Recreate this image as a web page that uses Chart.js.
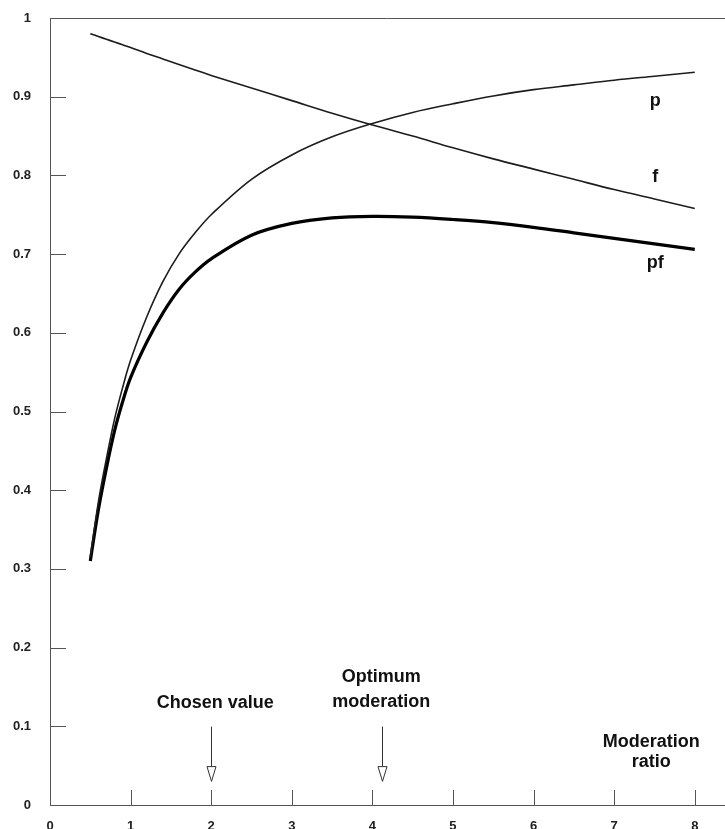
<!DOCTYPE html>
<html>
<head>
<meta charset="utf-8">
<script src="https://cdn.jsdelivr.net/npm/chart.js@4"></script>
<style>
  html, body { margin: 0; padding: 0; background: #fff; }
  #wrap { width: 725px; height: 829px; }
</style>
</head>
<body>
<div id="wrap"><canvas id="modChart"></canvas></div>
<script>
// moderation ratio (x) and the three curves
const ratio = [0.5, 0.6, 0.7, 0.8, 0.9, 1.0, 1.2, 1.4, 1.6, 1.8, 2.0, 2.5, 3.0, 3.5, 4.0, 4.5, 5.0, 5.5, 6.0, 6.5, 7.0, 7.5, 8.0];
const pValues = [0.315, 0.385, 0.44, 0.49, 0.53, 0.565, 0.62, 0.665, 0.70, 0.727, 0.75, 0.795, 0.826, 0.849, 0.866, 0.88, 0.891, 0.901, 0.909, 0.915, 0.921, 0.926, 0.931];
const fValues = [0.980, 0.9765, 0.973, 0.9695, 0.966, 0.9625, 0.955, 0.948, 0.941, 0.934, 0.927, 0.911, 0.895, 0.879, 0.864, 0.850, 0.835, 0.821, 0.808, 0.795, 0.782, 0.770, 0.758];
const pfValues = [0.31, 0.375, 0.428, 0.475, 0.512, 0.543, 0.588, 0.625, 0.655, 0.677, 0.694, 0.724, 0.739, 0.746, 0.748, 0.747, 0.744, 0.740, 0.734, 0.727, 0.720, 0.713, 0.706];

const xTicks = [0, 1, 2, 3, 4, 5, 6, 7, 8];
const yTicks = [0, 0.1, 0.2, 0.3, 0.4, 0.5, 0.6, 0.7, 0.8, 0.9, 1];

// curve names placed at the right end, in data units
const curveLabels = [
    { text: 'p', x: 7.51, y: 0.894 },
    { text: 'f', x: 7.51, y: 0.798 },
    { text: 'pf', x: 7.51, y: 0.689 }
];
// notes and arrows along the bottom
const notes = [
    { text: 'Chosen value', x: 2.05, y: 0.130 },
    { text: 'Optimum', x: 4.11, y: 0.162 },
    { text: 'moderation', x: 4.11, y: 0.131 },
    { text: 'Moderation', x: 7.46, y: 0.080 },
    { text: 'ratio', x: 7.46, y: 0.055 }
];
const arrowsAt = [2.0, 4.12];

const ink = '#1c1c1c';
const axisInk = '#555';

function pts(vals) {
    return ratio.map((x, i) => ({ x: x, y: vals[i] }));
}

const decor = {
    id: 'decor',
    afterDraw(chart) {
        const c = chart.ctx;
        const xs = chart.scales.x;
        const ys = chart.scales.y;
        const area = chart.chartArea;
        c.save();
        // top frame line
        c.strokeStyle = axisInk;
        c.lineWidth = 1;
        c.beginPath();
        c.moveTo(area.left, Math.round(area.top) + 0.5);
        c.lineTo(area.right, Math.round(area.top) + 0.5);
        c.stroke();
        // inward tick marks
        c.beginPath();
        xTicks.forEach(v => {
            if (v === 0) return;
            const px = Math.round(xs.getPixelForValue(v)) + 0.5;
            c.moveTo(px, area.bottom);
            c.lineTo(px, area.bottom - 15);
        });
        yTicks.forEach(v => {
            if (v === 0 || v === 1) return;
            const py = Math.round(ys.getPixelForValue(v)) + 0.5;
            c.moveTo(area.left, py);
            c.lineTo(area.left + 16, py);
        });
        c.stroke();

        // arrows
        c.strokeStyle = '#333';
        arrowsAt.forEach(v => {
            const px = Math.round(xs.getPixelForValue(v)) + 0.5;
            const y0 = ys.getPixelForValue(0.0996);
            const y1 = ys.getPixelForValue(0.0488);
            const y2 = ys.getPixelForValue(0.030);
            c.beginPath();
            c.moveTo(px, y0);
            c.lineTo(px, y1);
            c.stroke();
            c.beginPath();
            c.moveTo(px - 4.5, y1);
            c.lineTo(px + 4.5, y1);
            c.lineTo(px, y2);
            c.closePath();
            c.fillStyle = '#fff';
            c.fill();
            c.stroke();
        });

        // text
        c.fillStyle = '#111';
        c.textAlign = 'center';
        c.textBaseline = 'middle';
        c.font = 'bold 18px "Liberation Sans", Arial, sans-serif';
        curveLabels.concat(notes).forEach(t => {
            c.fillText(t.text, xs.getPixelForValue(t.x), ys.getPixelForValue(t.y));
        });
        c.restore();
    }
};

const tickFont = { family: '"Liberation Sans", Arial, sans-serif', size: 13, weight: 'bold' };

new Chart(document.getElementById('modChart'), {
    type: 'scatter',
    data: {
        datasets: [
            { label: 'p', data: pts(pValues), showLine: true, borderColor: ink, borderWidth: 1.6, pointRadius: 0, tension: 0.35 },
            { label: 'f', data: pts(fValues), showLine: true, borderColor: ink, borderWidth: 1.6, pointRadius: 0, tension: 0.35 },
            { label: 'pf', data: pts(pfValues), showLine: true, borderColor: '#000', borderWidth: 3.2, pointRadius: 0, tension: 0.35 }
        ]
    },
    options: {
        responsive: true,
        maintainAspectRatio: false,
        animation: false,
        layout: { padding: { top: 18, right: 0, left: 0, bottom: 0 } },
        plugins: {
            legend: { display: false },
            tooltip: { enabled: false }
        },
        scales: {
            x: {
                type: 'linear',
                min: 0,
                max: 8.375,
                grid: { display: false, drawTicks: false },
                border: { display: true, color: axisInk, width: 1 },
                afterBuildTicks: s => { s.ticks = xTicks.map(v => ({ value: v })); },
                afterFit: s => { s.height = 24; },
                ticks: { color: '#222', font: tickFont, padding: 14, maxRotation: 0, autoSkip: false }
            },
            y: {
                min: 0,
                max: 1,
                grid: { display: false, drawTicks: false },
                border: { display: true, color: axisInk, width: 1 },
                afterBuildTicks: s => { s.ticks = yTicks.map(v => ({ value: v })); },
                afterFit: s => { s.width = 50; s.paddingTop = 0; s.paddingBottom = 0; },
                ticks: { color: '#222', font: tickFont, padding: 19, autoSkip: false, callback: v => String(v) }
            }
        }
    },
    plugins: [decor]
});
</script>
</body>
</html>
